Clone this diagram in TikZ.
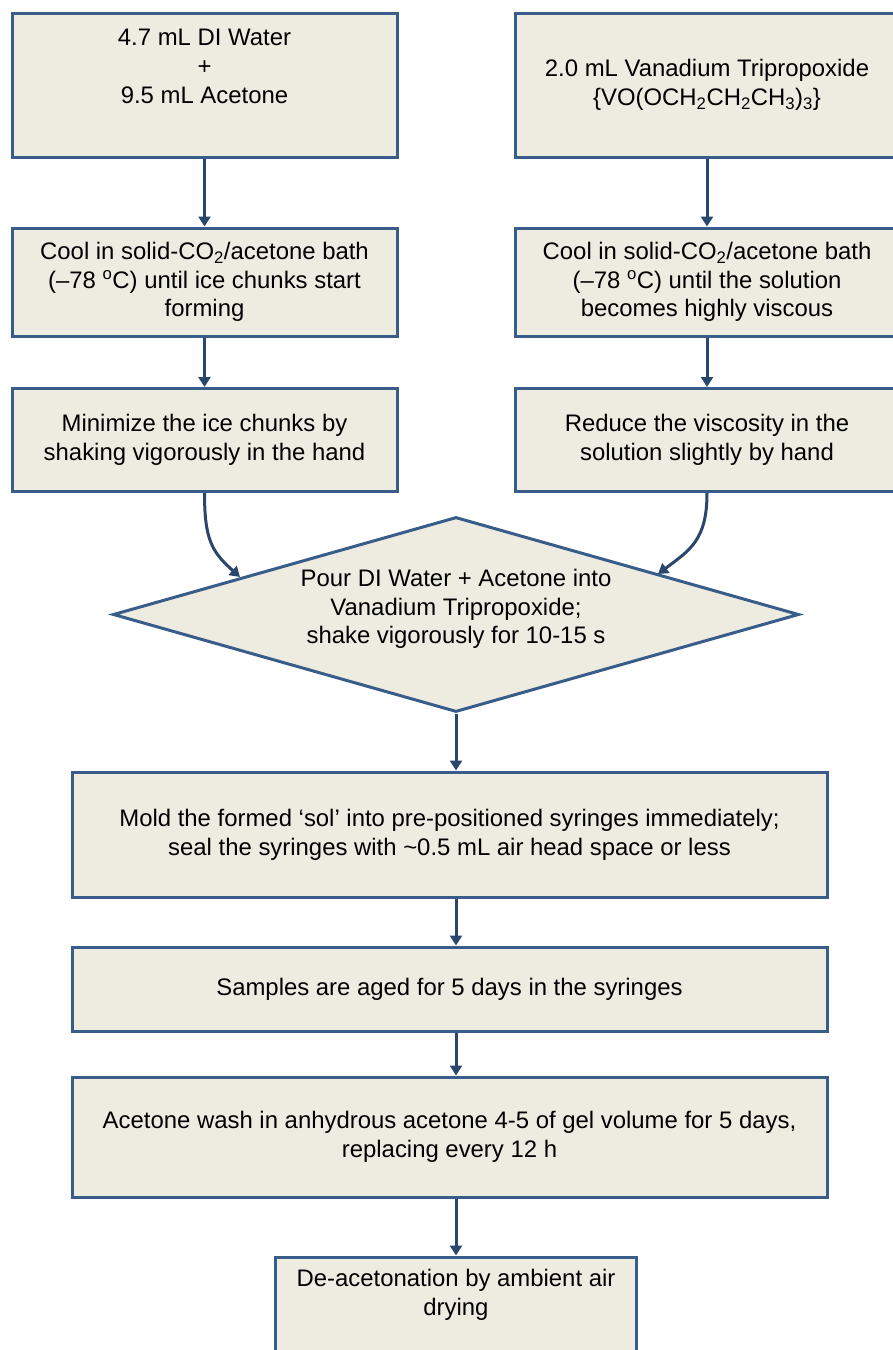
\documentclass[tikz,border=0pt]{standalone}
\usepackage{fontspec}
\setmainfont{Liberation Sans}
\usetikzlibrary{shapes.geometric,arrows.meta}
\definecolor{boxfill}{HTML}{EEECE1}
\definecolor{boxline}{HTML}{385D8A}
\definecolor{arrowcol}{HTML}{2A466C}
\begin{document}
\begin{tikzpicture}[x=1pt,y=-1pt,
  every node/.style={font=\fontsize{23.9}{28.8}\selectfont, align=center, inner sep=0pt},
  stepbox/.style={draw=boxline, fill=boxfill, line width=3pt, rectangle},
  decision/.style={draw=boxline, fill=boxfill, line width=3pt, diamond, aspect=3.5},
  flow/.style={draw=arrowcol, line width=3pt, -{Triangle[width=12pt,length=10pt]}}
]
\useasboundingbox (0,0) rectangle (893,1350);
\node[stepbox, minimum width=385pt, minimum height=144pt] (b1) at (204.5,85)
  {4.7 mL DI Water\\+\\9.5 mL Acetone\\\strut};
\node[stepbox, minimum width=384pt, minimum height=144pt] (b2) at (707,85)
  {2.0 mL Vanadium Tripropoxide\\\{VO(OCH\textsubscript{2}CH\textsubscript{2}CH\textsubscript{3})\textsubscript{3}\}};
\node[stepbox, minimum width=385pt, minimum height=108pt] (b3) at (204.5,282)
  {Cool in solid-CO\textsubscript{2}/acetone bath\\(–78 \textsuperscript{o}C) until ice chunks start\\forming};
\node[stepbox, minimum width=384pt, minimum height=108pt] (b4) at (707,282)
  {Cool in solid-CO\textsubscript{2}/acetone bath\\(–78 \textsuperscript{o}C) until the solution\\becomes highly viscous};
\node[stepbox, minimum width=385pt, minimum height=103pt] (b5) at (204.5,440)
  {Minimize the ice chunks by\\shaking vigorously in the hand};
\node[stepbox, minimum width=384pt, minimum height=103pt] (b6) at (707,440)
  {Reduce the viscosity in the\\solution slightly by hand};
\node[decision, minimum width=686pt, minimum height=195pt] (d) at (456,614.5) {};
\node (dt) at (456,609) {Pour DI Water + Acetone into\\Vanadium Tripropoxide;\\shake vigorously for 10-15 s};
\node[stepbox, minimum width=755pt, minimum height=125pt] (b7) at (449.5,834.5)
  {Mold the formed ‘sol’ into pre-positioned syringes immediately;\\seal the syringes with \textasciitilde0.5 mL air head space or less};
\node[stepbox, minimum width=755pt, minimum height=84pt] (b8) at (449.5,989)
  {Samples are aged for 5 days in the syringes};
\node[stepbox, minimum width=755pt, minimum height=120pt] (b9) at (449.5,1137)
  {Acetone wash in anhydrous acetone 4-5 of gel volume for 5 days,\\replacing every 12 h};
\node[stepbox, minimum width=361pt, minimum height=108pt] (b10) at (456,1311)
  {De-acetonation by ambient air\\drying\\\strut};
\coordinate (dl) at (240,577);
\coordinate (dr) at (658,574);
\draw[flow] (b1.south) -- (b3.north);
\draw[flow] (b2.south) -- (b4.north);
\draw[flow] (b3.south) -- (b5.north);
\draw[flow] (b4.south) -- (b6.north);
\draw[flow] (b5.south) .. controls (204.5,540) and (212,552) .. (dl);
\draw[flow] (b6.south) .. controls (707,540) and (690,550) .. (dr);
\draw[flow] (d.south) -- (b7.north -| d.south);
\draw[flow] (b7.south -| d.south) -- (b8.north -| d.south);
\draw[flow] (b8.south -| d.south) -- (b9.north -| d.south);
\draw[flow] (b9.south -| d.south) -- (b10.north -| d.south);
\end{tikzpicture}
\end{document}
